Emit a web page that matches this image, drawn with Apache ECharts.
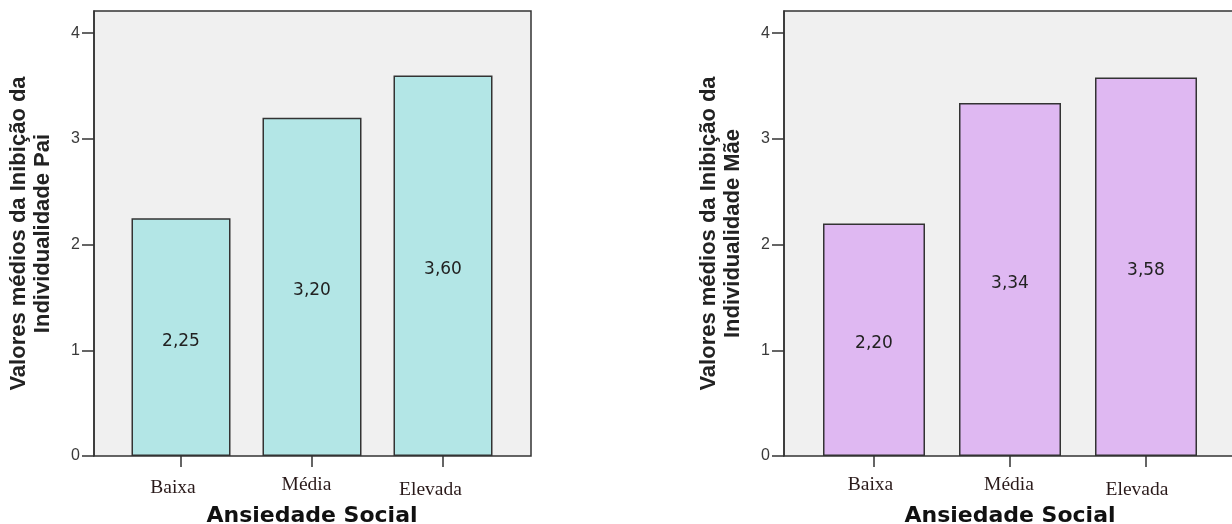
<!DOCTYPE html>
<html><head><meta charset="utf-8">
<script src="https://cdn.jsdelivr.net/npm/echarts@6/dist/echarts.min.js"></script>
<style>html,body{margin:0;padding:0;background:#fff}#c{width:1232px;height:524px}</style>
</head><body><div id="c"></div>
<script>
const categories = ['Baixa', 'Média', 'Elevada'];
const paiValues = [2.25, 3.20, 3.60];
const maeValues = [2.20, 3.34, 3.58];
const yTicks = [0, 1, 2, 3, 4];
const yNamePai = 'Valores médios da Inibição da\nIndividualidade Pai';
const yNameMae = 'Valores médios da Inibição da\nIndividualidade Mãe';
const xName = 'Ansiedade Social';

const YMAX = 4.21;
const chart = echarts.init(document.getElementById('c'));
const sans = 'Liberation Sans, Arial, sans-serif';
const wide = 'DejaVu Sans, Verdana, sans-serif';
// label nudges (style only): [top padding, right padding] per category
const nudgePai = [[3, 16], [0, 11], [5, 25]];
const nudgeMae = [[0, 7], [0, 2], [5, 18]];

function frameY(gi, name) {
  return {
    gridIndex: gi, type: 'value', min: 0, max: YMAX, interval: 1,
    axisLine: {show: true, lineStyle: {color: '#333', width: 1.5}},
    axisTick: {show: true, length: 12, customValues: yTicks, lineStyle: {color: '#333', width: 1.5}},
    axisLabel: {color: '#3a3a3a', fontSize: 16, fontFamily: sans, margin: 14, customValues: yTicks},
    splitLine: {show: false},
    name: name, nameLocation: 'middle', nameRotate: 90, nameGap: 39,
    nameTextStyle: {fontSize: 22, fontWeight: 'bold', fontFamily: sans, color: '#222', lineHeight: 24}
  };
}
function barY(gi) {
  return {gridIndex: gi, type: 'value', min: 0, max: YMAX, show: false, splitLine: {show: false}};
}
function barX(gi, nudge) {
  const rich = {};
  nudge.forEach((s, i) => { rich['c' + i] = {padding: [s[0], s[1], 0, 0], fontSize: 19.5, color: '#2a1a1a', fontFamily: 'Liberation Serif, Times New Roman, serif'}; });
  return {
    gridIndex: gi, type: 'category', data: categories,
    axisLine: {show: false},
    axisTick: {show: true, alignWithLabel: true, length: 11, lineStyle: {color: '#333', width: 1.5}},
    axisLabel: {margin: 19, formatter: (v, i) => '{c' + i + '|' + v + '}', rich: rich},
    name: xName, nameLocation: 'middle', nameGap: 41,
    nameTextStyle: {fontSize: 22, fontWeight: 'bold', fontFamily: wide, color: '#111'}
  };
}
function frameX(gi) {
  return {gridIndex: gi, type: 'value', min: 0, max: 1, show: false};
}
function barSeries(xi, data, color, w) {
  return {
    type: 'bar', xAxisIndex: xi, yAxisIndex: xi, data: data, barWidth: w,
    itemStyle: {color: color, borderColor: '#333', borderWidth: 1.5},
    label: {show: true, position: 'inside', offset: [0, 4], color: '#222', fontSize: 17, fontFamily: wide,
      formatter: p => p.value.toFixed(2).replace('.', ',')}
  };
}

const gb = {top: 11, bottom: 68, outerBoundsMode: 'none', containLabel: false};
chart.setOption({
  animation: false,
  grid: [
    Object.assign({left: 94, right: 701, show: true, backgroundColor: '#f0f0f0', borderColor: '#333', borderWidth: 1.5}, gb),
    Object.assign({left: 115.5, right: 723.5}, gb),
    Object.assign({left: 784, right: -4, show: true, backgroundColor: '#f0f0f0', borderColor: '#333', borderWidth: 1.5}, gb),
    Object.assign({left: 806, right: 18}, gb)
  ],
  xAxis: [frameX(0), barX(1, nudgePai), frameX(2), barX(3, nudgeMae)],
  yAxis: [frameY(0, yNamePai), barY(1), frameY(2, yNameMae), barY(3)],
  series: [
    barSeries(1, paiValues, '#b3e6e6', 99),
    barSeries(3, maeValues, '#dfb8f2', 102)
  ]
});
</script></body></html>
